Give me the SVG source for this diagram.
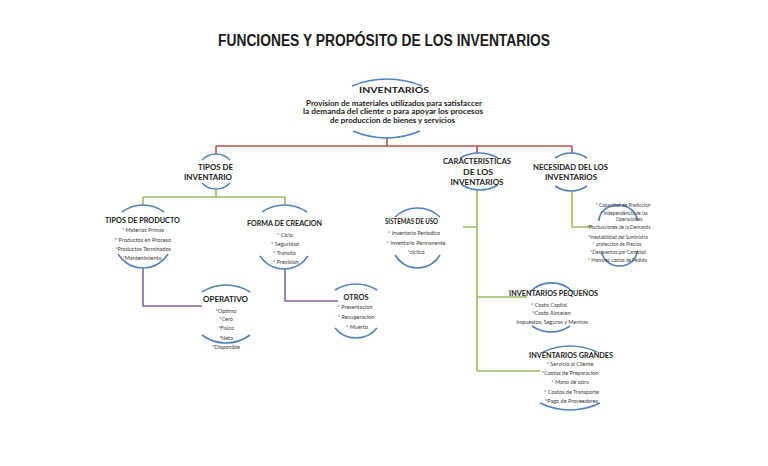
<svg xmlns="http://www.w3.org/2000/svg" width="768" height="466" viewBox="0 0 768 466">
<style>
.arc{fill:none;stroke:#4f81bd;stroke-width:1.6}
.red{fill:none;stroke:#c0504d;stroke-width:1.6}
.grn{fill:none;stroke:#9bbb59;stroke-width:1.6}
.pur{fill:none;stroke:#8064a2;stroke-width:1.6}
.t{font-family:Lato,"Open Sans",sans-serif;font-weight:700;font-size:8px;fill:#1a1a1a;text-anchor:middle}
.i{font-family:Lato,"Open Sans",sans-serif;font-size:5.5px;fill:#3a3a3a;text-anchor:middle}
.n{font-family:Lato,"Open Sans",sans-serif;font-size:4.8px;fill:#3a3a3a;text-anchor:middle}
.d{font-family:Lato,"Open Sans",sans-serif;font-weight:700;font-size:6.8px;fill:#1a1a1a;text-anchor:middle}
</style>
<rect width="768" height="466" fill="#ffffff"/>
<text x="384" y="45.5" font-family="'Liberation Sans',Arial,sans-serif" font-weight="700" font-size="16" fill="#1a1a1a" text-anchor="middle" textLength="332" lengthAdjust="spacingAndGlyphs">FUNCIONES Y PROPÓSITO DE LOS INVENTARIOS</text>

<g id="connectors">
<path class="red" d="M387 138V146M216 146H572M216 146V154M477 146V153M572 146V153"/>
<path class="grn" d="M216 189V197M143 197H285M143 197V205M285 197V205"/>
<path class="grn" d="M477 190V371M463 227H477M477 297H527M477 371H540"/>
<path class="grn" d="M572 191V227H593"/>
<path class="pur" d="M143 268V306H202M285 268V301H338"/>
</g>

<g id="inventarios">
<path class="arc" d="M352 86A91 91 0 0 1 422 86"/>
<path class="arc" d="M353 131A84 84 0 0 0 420 131"/>
<text class="t" x="394" y="93" font-size="11.5" textLength="70" lengthAdjust="spacingAndGlyphs">INVENTARIOS</text>
<text class="d" x="394" y="105.5" textLength="176" lengthAdjust="spacingAndGlyphs">Provision de materiales utilizados para satisfaccer</text>
<text class="d" x="393" y="114" textLength="180" lengthAdjust="spacingAndGlyphs">la demanda del cliente o para apoyar los procesos</text>
<text class="d" x="392.5" y="122.5" textLength="125" lengthAdjust="spacingAndGlyphs">de produccion de bienes y servicios</text>
</g>

<g id="tipos-inventario">
<path class="arc" d="M202 160A19.3 19.3 0 0 1 230 160"/>
<path class="arc" d="M202 183A19.3 19.3 0 0 0 230 183"/>
<text class="t" x="215.5" y="169.8" textLength="35" lengthAdjust="spacingAndGlyphs">TIPOS DE</text>
<text class="t" x="208" y="179.8" textLength="48" lengthAdjust="spacingAndGlyphs">INVENTARIO</text>
</g>

<g id="caracteristicas">
<path class="arc" d="M460 158A38.6 38.6 0 0 1 498 158"/>
<path class="arc" d="M462 185A35 35 0 0 0 498 185"/>
<text class="t" x="477" y="163.8" textLength="68" lengthAdjust="spacingAndGlyphs">CARACTERISTICAS</text>
<text class="t" x="478" y="174.8" textLength="30" lengthAdjust="spacingAndGlyphs">DE LOS</text>
<text class="t" x="477" y="184.8" textLength="53" lengthAdjust="spacingAndGlyphs">INVENTARIOS</text>
</g>

<g id="necesidad">
<path class="arc" d="M555 158A28 28 0 0 1 587 158"/>
<path class="arc" d="M555 186A28 28 0 0 0 587 186"/>
<text class="t" x="570.5" y="169.8" textLength="75" lengthAdjust="spacingAndGlyphs">NECESIDAD DEL LOS</text>
<text class="t" x="571" y="179.8" textLength="52" lengthAdjust="spacingAndGlyphs">INVENTARIOS</text>
</g>

<g id="necesidad-lista">
<path class="arc" d="M599 221A19 16 0 0 1 637 221"/>
<path class="arc" d="M602 251A17.5 15 0 0 0 637 251"/>
<text class="n" x="623" y="206.7">* Capacidad de Prediccion</text>
<text class="n" x="624" y="214.7">* Independencia de las</text>
<text class="n" x="629" y="220.7">Operaciones</text>
<text class="n" x="618.5" y="228.7">*Fluctuaciones de la Demanda</text>
<text class="n" x="618" y="238.7">*Inestabilidad del Suministro</text>
<text class="n" x="617" y="245.7">* proteccion de Precios</text>
<text class="n" x="618" y="253.7">*Descuentos por Cantidad</text>
<text class="n" x="617.5" y="261.7">* Menores costos de Pedido</text>
</g>

<g id="tipos-producto">
<path class="arc" d="M122 212A35 35 0 0 1 164 212"/>
<path class="arc" d="M118 254A29.3 29.3 0 0 0 168 254"/>
<text class="t" x="142.5" y="222.8" textLength="75" lengthAdjust="spacingAndGlyphs">TIPOS DE PRODUCTO</text>
<text class="i" x="143" y="232">* Materias Primas</text>
<text class="i" x="143" y="242">* Productos en Proceso</text>
<text class="i" x="143" y="251">*Productos Terminados</text>
<text class="i" x="142" y="260">*Mantenimiento</text>
</g>

<g id="forma-creacion">
<path class="arc" d="M262 212A39.6 39.6 0 0 1 307 212"/>
<path class="arc" d="M260 256A28.7 28.7 0 0 0 308 256"/>
<text class="t" x="284.5" y="225.8" textLength="75" lengthAdjust="spacingAndGlyphs">FORMA DE CREACION</text>
<text class="i" x="285" y="237">* Ciclo</text>
<text class="i" x="285" y="246">* Seguridad</text>
<text class="i" x="284.5" y="255">* Transito</text>
<text class="i" x="286" y="264">* Prevision</text>
</g>

<g id="sistemas-uso">
<path class="arc" d="M395 217A32.6 32.6 0 0 1 440 217"/>
<path class="arc" d="M395 255A26 26 0 0 0 440 255"/>
<text class="t" x="411.5" y="223.8" textLength="53" lengthAdjust="spacingAndGlyphs">SISTEMAS DE USO</text>
<text class="i" x="414" y="235">* Inventario Periodico</text>
<text class="i" x="416" y="245">* Inventario Permanente</text>
<text class="i" x="416" y="254">*ciclico</text>
</g>

<g id="operativo">
<path class="arc" d="M202 292A44.6 44.6 0 0 1 250 292"/>
<path class="arc" d="M202 335A40 40 0 0 0 250 335"/>
<text class="t" x="225.5" y="301.8" textLength="45" lengthAdjust="spacingAndGlyphs">OPERATIVO</text>
<text class="i" x="226" y="313">*Optimo</text>
<text class="i" x="226" y="321">*Cero</text>
<text class="i" x="226" y="330">*Fisico</text>
<text class="i" x="226" y="340">*Neto</text>
<text class="i" x="226" y="349">*Disponible</text>
</g>

<g id="otros">
<path class="arc" d="M335 290A39.75 39.75 0 0 1 377 290"/>
<path class="arc" d="M335 328A27 27 0 0 0 377 328"/>
<text class="t" x="356" y="299.8" textLength="25" lengthAdjust="spacingAndGlyphs">OTROS</text>
<text class="i" x="355" y="309">* Presentacion</text>
<text class="i" x="356" y="319">* Recuperacion</text>
<text class="i" x="357" y="329">* Muerto</text>
</g>

<g id="inventarios-pequenos">
<path class="arc" d="M530 292A30 30 0 0 1 573 292"/>
<path class="arc" d="M532 326A33 33 0 0 0 570 326"/>
<text class="t" x="553.5" y="295.8" textLength="89" lengthAdjust="spacingAndGlyphs">INVENTARIOS PEQUEÑOS</text>
<text class="i" x="549" y="307">* Costo Capital</text>
<text class="i" x="551.5" y="315">*Costo Almacen</text>
<text class="i" x="552" y="324">Impuestos, Seguros y Mermas</text>
</g>

<g id="inventarios-grandes">
<path class="arc" d="M543 352A63.75 63.75 0 0 1 597 352"/>
<path class="arc" d="M540 403A68 68 0 0 0 600 403"/>
<text class="t" x="571" y="357.8" textLength="84" lengthAdjust="spacingAndGlyphs">INVENTARIOS GRANDES</text>
<text class="i" x="570" y="366">* Servicio al Cliente</text>
<text class="i" x="570" y="375">*Costos de Preparacion</text>
<text class="i" x="570" y="384">* Mano de obra</text>
<text class="i" x="571.5" y="394">* Costos de Transporte</text>
<text class="i" x="571.5" y="403">*Pago de Proveedores</text>
</g>
</svg>
